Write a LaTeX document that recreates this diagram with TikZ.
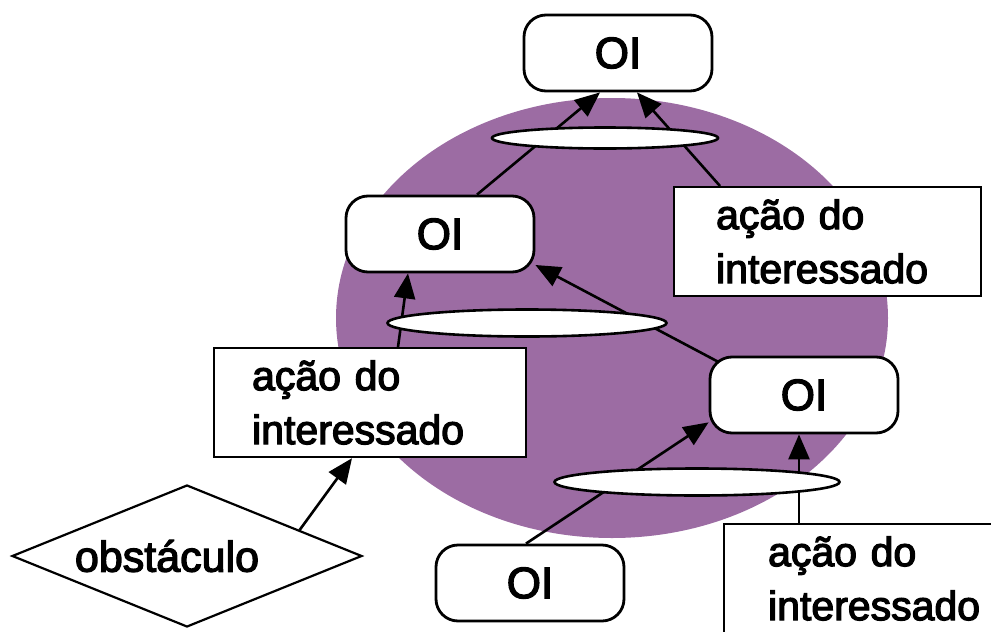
\documentclass[tikz,border=0pt]{standalone}
\usepackage{fontspec}
\setmainfont{Liberation Sans}
\newfontfamily\heavy[FakeBold=3]{Liberation Sans}
\usetikzlibrary{positioning,shapes.geometric,arrows.meta}
\pgfdeclarelayer{back}
\pgfdeclarelayer{links}
\pgfsetlayers{back,links,main}
\definecolor{blob}{RGB}{156,108,163}
\newcommand{\acaotxt}{\rule{0pt}{42pt}ação do\\interessado\rule[-13pt]{0pt}{0pt}}

\begin{document}
\begin{tikzpicture}[x=1pt, y=-1pt,
  oi/.style={draw, rounded corners=22pt, line width=2.8pt, fill=white, minimum width=188pt, minimum height=76pt, font=\heavy\fontsize{44}{44}\selectfont},
  act/.style={draw, line width=2.2pt, fill=white, anchor=north west, align=left, inner xsep=42pt, inner ysep=0pt, font=\heavy\fontsize{41}{54}\selectfont},
  lnk/.style={draw, ellipse, line width=2.6pt, fill=white, inner sep=0pt},
  obst/.style={draw, diamond, aspect=2.5, line width=2.2pt, fill=white, inner sep=0pt, minimum width=350pt, minimum height=142pt, font=\heavy\fontsize{43}{43}\selectfont},
  ar/.style={line width=2.6pt, -{Triangle[length=25pt, width=21pt]}}]
  \useasboundingbox (0,0) rectangle (991,632);
  \begin{pgfonlayer}{back}
    \fill[blob] (612,318) ellipse [x radius=276pt, y radius=220pt];
  \end{pgfonlayer}

  \node[oi] (oiA) at (618,53) {OI};
  \node[oi] (oiB) at (440,234) {OI};
  \node[oi] (oiC) at (804,395) {OI};
  \node[oi] (oiD) at (530,583) {OI};

  \node[act, text width=223pt] (actR) at (673,186) {\acaotxt};
  \node[act, text width=236pt, inner xsep=38pt] (actL) at (213,347) {\acaotxt};
  \node[act, text width=260pt, inner xsep=44pt] (actB) at (723,523) {\acaotxt};

  \node[lnk, minimum width=226pt, minimum height=21pt] (lnkA) at (605,138) {};
  \node[lnk, minimum width=279pt, minimum height=27pt] (lnkB) at (527,323) {};
  \node[lnk, minimum width=285pt, minimum height=27pt] (lnkC) at (697,482) {};

  \node[obst] (obst) at (187,556) {obstáculo\kern40pt};

  \begin{pgfonlayer}{links}
    \draw[ar] ([xshift=37pt]oiB.north) -- ([xshift=-18pt]oiA.south);
    \draw[ar] ([xshift=47pt]actR.north west) -- ([xshift=19pt]oiA.south);
    \draw[ar] ([xshift=185pt]actL.north west) -- ([xshift=-32pt]oiB.south);
    \draw[ar] ([xshift=30pt,yshift=-17pt]oiC.north west) -- (oiB.-18);
    \draw[ar] ([xshift=-4pt]oiD.north) -- (oiC.196);
    \draw[ar] ([xshift=76pt]actB.north west) -- ([xshift=-5pt]oiC.south);
    \draw[ar] (obst.13) -- ([xshift=139pt]actL.south west);
  \end{pgfonlayer}
\end{tikzpicture}
\end{document}
